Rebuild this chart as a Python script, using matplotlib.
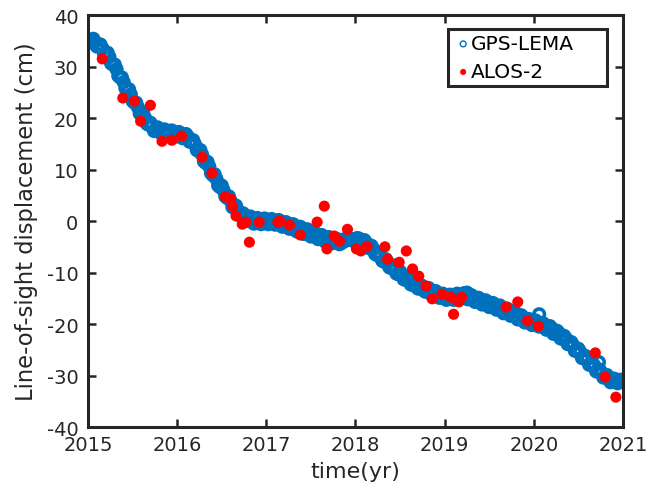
import numpy as np
import matplotlib
matplotlib.use("Agg")
import matplotlib.pyplot as plt

# GPS-LEMA line-of-sight series, first set of epochs
gps_year = [
    2015.00, 2015.04, 2015.08, 2015.12, 2015.16, 2015.20, 2015.24, 2015.28, 2015.32, 2015.36,
    2015.40, 2015.44, 2015.48, 2015.52, 2015.56, 2015.60, 2015.64, 2015.68, 2015.72, 2015.76,
    2015.80, 2015.84, 2015.88, 2015.92, 2015.96,
    2016.00, 2016.04, 2016.08, 2016.12, 2016.16, 2016.20, 2016.24, 2016.28, 2016.32, 2016.36,
    2016.40, 2016.44, 2016.48, 2016.52, 2016.56, 2016.60, 2016.64, 2016.68, 2016.72, 2016.76,
    2016.80, 2016.84, 2016.88, 2016.92, 2016.96,
    2017.00, 2017.04, 2017.08, 2017.12, 2017.16, 2017.20, 2017.24, 2017.28, 2017.32, 2017.36,
    2017.40, 2017.44, 2017.48, 2017.52, 2017.56, 2017.60, 2017.64, 2017.68, 2017.72, 2017.76,
    2017.80, 2017.84, 2017.88, 2017.96,
    2018.00, 2018.04, 2018.08, 2018.12, 2018.16, 2018.20, 2018.24, 2018.28, 2018.32, 2018.36,
    2018.40, 2018.44, 2018.48, 2018.52, 2018.56, 2018.60, 2018.64, 2018.68, 2018.72, 2018.76,
    2018.80, 2018.84, 2018.88, 2018.92, 2018.96,
    2019.00, 2019.04, 2019.08, 2019.12, 2019.16, 2019.20, 2019.24, 2019.28, 2019.32, 2019.36,
    2019.40, 2019.44, 2019.48, 2019.52, 2019.56, 2019.60, 2019.64, 2019.68, 2019.72, 2019.76,
    2019.80, 2019.84, 2019.88, 2019.92, 2019.96,
    2020.00, 2020.04, 2020.08, 2020.12, 2020.16, 2020.20, 2020.24, 2020.28, 2020.32, 2020.36,
    2020.40, 2020.44, 2020.48, 2020.52, 2020.56, 2020.60, 2020.64, 2020.68, 2020.72, 2020.76,
    2020.80, 2020.84, 2020.88, 2020.92, 2020.96, 2020.99,
    2020.06, 2019.25, 2020.73,
]
gps_los = [
    35.3, 35.0, 34.8, 34.1, 33.6, 32.6, 31.9, 30.4, 29.5, 27.9,
    27.0, 25.6, 24.6, 23.0, 22.1, 20.6, 20.0, 18.7, 18.4, 17.6,
    17.7, 17.0, 17.4, 16.9, 17.1,
    16.6, 16.9, 16.2, 16.4, 15.4, 14.9, 13.6, 12.9, 11.3, 10.6,
    8.9, 8.2, 6.6, 6.0, 4.5, 3.9, 2.6, 2.1, 1.0, 0.8,
    0.1, 0.4, -0.3, 0.2, -0.2,
    0.3, -0.3, 0.1, -0.4, -0.1, -0.8, -0.5, -1.3, -0.9, -1.8,
    -1.4, -2.3, -1.9, -2.8, -2.5, -3.3, -3.0, -3.8, -3.4, -4.1,
    -3.6, -4.3, -3.9, -3.5,
    -3.8, -3.4, -4.3, -4.2, -5.2, -5.4, -6.6, -6.8, -7.9, -8.0,
    -9.1, -9.2, -10.3, -10.4, -11.4, -11.4, -12.4, -12.2, -13.1, -12.9,
    -13.7, -13.5, -14.3, -14.0, -14.8,
    -14.4, -15.1, -14.6, -15.0, -14.3, -14.8, -14.2, -15.1, -14.7, -15.6,
    -15.2, -16.0, -15.7, -16.5, -16.2, -17.0, -16.8, -17.7, -17.3, -18.3,
    -17.9, -19.0, -18.7, -19.6, -19.4,
    -20.0, -19.6, -20.4, -20.1, -21.0, -20.8, -21.8, -21.7, -22.8, -22.8,
    -23.9, -24.1, -25.2, -25.4, -26.6, -26.8, -27.9, -28.1, -29.2, -29.5,
    -30.3, -30.5, -31.1, -30.9, -31.3, -31.2,
    -18.1, -13.9, -27.4,
]

# GPS-LEMA, in-between epochs
gps_year_b = [
    2015.02, 2015.06, 2015.10, 2015.14, 2015.18, 2015.22, 2015.26, 2015.30, 2015.34, 2015.38,
    2015.42, 2015.46, 2015.50, 2015.54, 2015.58, 2015.62, 2015.66, 2015.70, 2015.74, 2015.78,
    2015.82, 2015.86, 2015.90, 2015.94, 2015.98,
    2016.02, 2016.06, 2016.10, 2016.14, 2016.18, 2016.22, 2016.26, 2016.30, 2016.34, 2016.38,
    2016.42, 2016.46, 2016.50, 2016.54, 2016.58, 2016.62, 2016.66, 2016.70, 2016.74, 2016.78,
    2016.82, 2016.86, 2016.90, 2016.94, 2016.98,
    2017.02, 2017.06, 2017.10, 2017.14, 2017.18, 2017.22, 2017.26, 2017.30, 2017.34, 2017.38,
    2017.42, 2017.46, 2017.50, 2017.54, 2017.58, 2017.62, 2017.66, 2017.70, 2017.74, 2017.78,
    2017.82, 2017.86, 2017.98,
    2018.02, 2018.06, 2018.10, 2018.14, 2018.18, 2018.22, 2018.26, 2018.30, 2018.34, 2018.38,
    2018.42, 2018.46, 2018.50, 2018.54, 2018.58, 2018.62, 2018.66, 2018.70, 2018.74, 2018.78,
    2018.82, 2018.86, 2018.90, 2018.94, 2018.98,
    2019.02, 2019.06, 2019.10, 2019.14, 2019.18, 2019.22, 2019.26, 2019.30, 2019.34, 2019.38,
    2019.42, 2019.46, 2019.50, 2019.54, 2019.58, 2019.62, 2019.66, 2019.70, 2019.74, 2019.78,
    2019.82, 2019.86, 2019.90, 2019.94, 2019.98,
    2020.02, 2020.06, 2020.10, 2020.14, 2020.18, 2020.22, 2020.26, 2020.30, 2020.34, 2020.38,
    2020.42, 2020.46, 2020.50, 2020.54, 2020.58, 2020.62, 2020.66, 2020.70, 2020.74, 2020.78,
    2020.82, 2020.86, 2020.90, 2020.94, 2020.98,
]
gps_los_b = [
    34.7, 35.4, 33.9, 34.3, 32.5, 32.7, 30.6, 30.4, 28.2, 27.9,
    25.8, 25.6, 23.3, 23.0, 20.9, 20.9, 18.9, 19.1, 17.5, 18.2,
    17.0, 17.8, 16.7, 17.6, 16.4,
    17.3, 16.1, 16.9, 15.4, 15.7, 13.8, 13.8, 11.6, 11.5, 9.3,
    9.1, 6.9, 6.9, 4.8, 4.8, 2.7, 3.0, 1.1, 1.5, 0.0,
    0.9, -0.5, 0.6, -0.6, 0.5,
    -0.6, 0.4, -0.7, 0.2, -1.1, -0.2, -1.5, -0.6, -2.0, -1.1,
    -2.5, -1.6, -3.0, -2.2, -3.5, -2.7, -4.0, -3.1, -4.3, -3.4,
    -4.5, -3.6, -3.9,
    -3.3, -4.4, -3.7, -5.2, -4.8, -6.4, -6.2, -7.7, -7.4, -9.0,
    -8.6, -10.2, -9.8, -11.3, -10.8, -12.3, -11.8, -13.1, -12.5, -13.7,
    -13.0, -14.4, -13.6, -14.9, -14.1,
    -15.3, -14.3, -15.3, -14.1, -15.0, -14.0, -15.2, -14.4, -15.7, -14.9,
    -16.2, -15.4, -16.7, -15.9, -17.2, -16.4, -17.9, -17.0, -18.4, -17.6,
    -19.1, -18.3, -19.7, -19.0, -20.2,
    -19.3, -20.5, -19.8, -21.1, -20.4, -21.9, -21.3, -22.8, -22.3, -23.9,
    -23.5, -25.2, -24.8, -26.6, -26.2, -27.9, -27.6, -29.2, -28.9, -30.4,
    -29.9, -31.3, -30.6, -31.5, -30.8,
]

# ALOS-2 InSAR points
alos_year = [
    2015.16, 2015.39, 2015.52, 2015.70, 2015.59, 2015.83, 2015.94, 2016.05, 2016.28, 2016.39,
    2016.54, 2016.60, 2016.62, 2016.66, 2016.73, 2016.77, 2016.81, 2016.92, 2017.13, 2017.15,
    2017.26, 2017.38, 2017.57, 2017.65, 2017.68, 2017.76, 2017.82, 2017.91, 2018.01, 2018.06,
    2018.13, 2018.33, 2018.57, 2018.36, 2018.49, 2018.64, 2018.71, 2018.79, 2018.86, 2018.97,
    2019.07, 2019.10, 2019.16, 2019.19, 2019.69, 2019.82, 2019.93, 2020.05, 2020.69, 2020.80,
    2020.92,
]
alos_los = [
    31.5, 23.9, 23.3, 22.5, 19.4, 15.5, 15.7, 16.5, 12.4, 9.3,
    4.7, 4.3, 2.9, 1.0, -0.6, -0.2, -4.1, -0.2, -0.2, 0.0,
    -0.8, -2.7, -0.2, 2.9, -5.4, -2.9, -3.9, -1.6, -5.4, -5.8,
    -4.9, -5.0, -5.8, -7.4, -8.0, -9.3, -10.7, -12.6, -15.1, -14.2,
    -14.8, -18.1, -15.7, -14.8, -16.7, -15.7, -19.4, -20.4, -25.6, -30.3,
    -34.2,
]

blue = "#0072BD"
dark = "#262626"

plt.rcParams["font.family"] = "DejaVu Sans"
plt.rcParams["axes.unicode_minus"] = False
fig = plt.figure(figsize=(6.49, 4.89), dpi=100)
ax = fig.add_axes([0.1356, 0.1247, 0.8243, 0.8423])

ax.scatter(gps_year + gps_year_b, gps_los + gps_los_b, s=58, facecolors="none",
           edgecolors=blue, linewidths=2.6, label="GPS-LEMA", zorder=2)
ax.scatter(alos_year, alos_los, s=64, color="#FF0000", edgecolors="none",
           label="ALOS-2", zorder=3)

ax.set_xlim(2015, 2021)
ax.set_ylim(-40, 40)
ax.set_xticks(range(2015, 2022))
ax.set_yticks(range(-40, 41, 10))
ax.tick_params(direction="in", length=6, width=1.8, top=True, right=True,
               labelsize=14, colors=dark)
ax.tick_params(axis="y", pad=7)
ax.tick_params(axis="x", pad=6)
for sp in ax.spines.values():
    sp.set_linewidth(2.2)
    sp.set_color(dark)

ax.set_xlabel("time(yr)", fontsize=16, color=dark, labelpad=5)
ax.set_ylabel("Line-of-sight displacement (cm)", fontsize=16.3, color=dark, labelpad=6)

# legend box spans a fixed width, MATLAB-like
leg = ax.legend(loc="upper left", mode="expand", fontsize=14.5, frameon=True,
                fancybox=False, handletextpad=-0.1, handlelength=1.0, borderpad=0.25,
                labelspacing=0.45, borderaxespad=0, framealpha=1,
                bbox_to_anchor=(0.673, 0.828, 0.298, 0.138), markerscale=0.55)
leg.get_frame().set_edgecolor(dark)
leg.get_frame().set_linewidth(2.2)
leg.legend_handles[0].set_linewidths([1.0])

fig.savefig("out.png", dpi=100)
